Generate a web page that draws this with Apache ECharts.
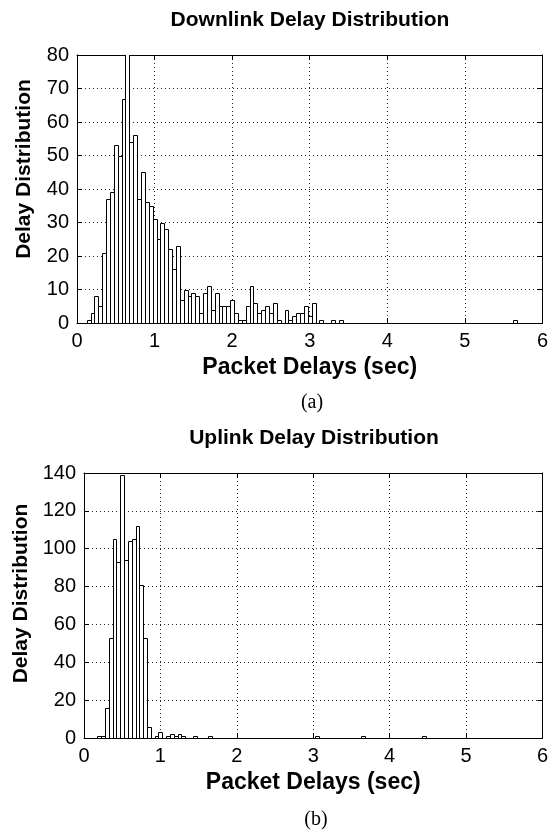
<!DOCTYPE html>
<html><head><meta charset="utf-8">
<script src="https://cdn.jsdelivr.net/npm/echarts@6/dist/echarts.min.js"></script>
<style>html,body{margin:0;padding:0;background:#fff}#c{width:551px;height:832px}</style>
</head><body><div id="c"></div>
<script>
// ---- data ----
const binWidth = 0.05;
const xTicks = [0, 1, 2, 3, 4, 5, 6];
// Downlink histogram: counts for consecutive bins, first bin centred at 0.15 s
const downlinkFirstBin = 0.15;
const downlinkCounts = [1,3,8,5,21,37,39,53,50,67,82,54,56,37,45,36,35,31,25,30,28,22,16,23,7,10,8,9,8,3,9,11,4,9,5,5,5,7,3,1,1,5,11,6,3,4,5,3,6,1,0,4,1,2,3,3,5,2,6,0,1,0,0,1,0,1];
const downlinkIsolated = [[5.65, 1]];
// Uplink histogram: first bin centred at 0.20 s
const uplinkFirstBin = 0.20;
const uplinkCounts = [1,1,16,53,105,93,139,94,104,105,112,81,53,6,0,1,3,0,1,2,1,2,1,0,0,1,0,0,0,1];
const uplinkIsolated = [[3.05, 1], [3.65, 1], [4.45, 1]];

function toPoints(first, counts, extra) {
  const pts = [];
  counts.forEach((c, i) => { if (c > 0) pts.push([+(first + i * binWidth).toFixed(3), c]); });
  return pts.concat(extra);
}
const downlinkData = toPoints(downlinkFirstBin, downlinkCounts, downlinkIsolated);
const uplinkData = toPoints(uplinkFirstBin, uplinkCounts, uplinkIsolated);

// ---- chart ----
const chart = echarts.init(document.getElementById('c'), null, {renderer: 'canvas'});
const SANS = '"Liberation Sans", Arial, Helvetica, sans-serif';
const SERIF = '"Liberation Serif", "Times New Roman", serif';

function renderBar(params, api) {
  const x = api.value(0), y = api.value(1);
  const p0 = api.coord([x - binWidth / 2, 0]);
  const p1 = api.coord([x + binWidth / 2, y]);
  const x0 = Math.round(p0[0]) + 0.5, x1 = Math.round(p1[0]) + 0.5;
  const yb = Math.round(p0[1]) + 0.5, yt = Math.round(p1[1]) + 0.5;
  return {
    type: 'rect',
    shape: {x: x0, y: yt, width: x1 - x0, height: yb - yt},
    style: {fill: '#fff', stroke: '#000', lineWidth: 1}
  };
}

const gridLine = {show: true, lineStyle: {color: '#222', type: [1, 3], width: 1}};
const labelStyle = {color: '#000', fontSize: 20, fontFamily: SANS};
const nameStyle = {color: '#000', fontSize: 21, fontWeight: 'bold', fontFamily: SANS};

function xAxes(gi) {
  return [{
    type: 'value', gridIndex: gi, min: 0, max: 6, interval: 1,
    axisLine: {show: true, onZero: false, lineStyle: {color: '#000', width: 1}},
    axisTick: {show: true, inside: true, length: 5, lineStyle: {color: '#000'}},
    axisLabel: Object.assign({margin: 8, formatter: v => xTicks.includes(v) ? String(v) : ''}, labelStyle),
    splitLine: gridLine,
    name: 'Packet Delays (sec)', nameLocation: 'middle', nameGap: 33,
    nameTextStyle: Object.assign({}, nameStyle, {fontSize: 23})
  }, {
    type: 'value', gridIndex: gi, min: 0, max: 6, interval: 1, position: 'top',
    axisLine: {show: true, onZero: false, lineStyle: {color: '#000'}},
    axisTick: {show: true, inside: true, length: 5, lineStyle: {color: '#000'}},
    axisLabel: {show: false}, splitLine: {show: false}
  }];
}
function yAxes(gi, max, interval, gap, shiftPad) {
  return [{
    type: 'value', gridIndex: gi, min: 0, max: max, interval: interval,
    axisLine: {show: true, onZero: false, lineStyle: {color: '#000'}},
    axisTick: {show: true, inside: true, length: 5, lineStyle: {color: '#000'}},
    axisLabel: Object.assign({margin: 8}, labelStyle),
    splitLine: gridLine,
    name: 'Delay Distribution', nameLocation: 'middle', nameGap: gap,
    nameTextStyle: Object.assign({}, nameStyle, {padding: [0, 0, 0, shiftPad]})
  }, {
    type: 'value', gridIndex: gi, min: 0, max: max, interval: interval, position: 'right',
    axisLine: {show: true, onZero: false, lineStyle: {color: '#000'}},
    axisTick: {show: true, inside: true, length: 5, lineStyle: {color: '#000'}},
    axisLabel: {show: false}, splitLine: {show: false}
  }];
}

const option = {
  backgroundColor: '#fff',
  animation: false,
  grid: [
    {left: 77, right: 4, top: 55, height: 268},
    {left: 84, right: 2, top: 473, height: 265}
  ],
  xAxis: xAxes(0).concat(xAxes(1)),
  yAxis: yAxes(0, 80, 10, 42, 40).concat(yAxes(1, 140, 20, 49, 24)),
  series: [
    {type: 'custom', xAxisIndex: 0, yAxisIndex: 0, renderItem: renderBar, data: downlinkData, clip: true, z: 3},
    {type: 'custom', xAxisIndex: 2, yAxisIndex: 2, renderItem: renderBar, data: uplinkData, clip: true, z: 3}
  ],
  graphic: [
    {type: 'text', x: 310, y: 20, style: {text: 'Downlink Delay Distribution', font: 'bold 21px ' + SANS, fill: '#000', align: 'center', verticalAlign: 'middle'}},
    {type: 'text', x: 312, y: 403, style: {text: '(a)', font: '20px ' + SERIF, fill: '#000', align: 'center', verticalAlign: 'middle'}},
    {type: 'text', x: 314, y: 438, style: {text: 'Uplink Delay Distribution', font: 'bold 21px ' + SANS, fill: '#000', align: 'center', verticalAlign: 'middle'}},
    {type: 'text', x: 316, y: 820, style: {text: '(b)', font: '20px ' + SERIF, fill: '#000', align: 'center', verticalAlign: 'middle'}}
  ]
};
chart.setOption(option);
</script></body></html>
